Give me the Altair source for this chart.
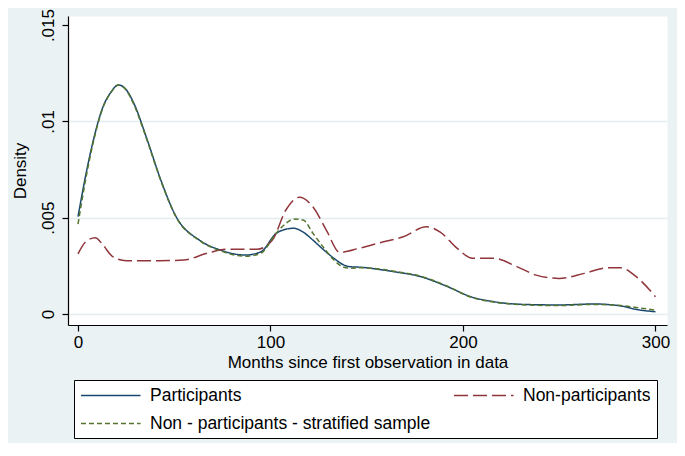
import altair as alt
import pandas as pd

# Participants (solid navy)
part_x = [0, 4, 8, 13, 17, 21, 25, 29, 36, 43, 51, 63, 74, 87, 95, 103, 108, 112, 117, 122, 128, 133, 138, 141,
          148, 156, 164, 178, 192, 204, 216, 231, 250, 268, 282, 290, 300]
part_y = [0.00505, 0.0072, 0.00903, 0.01076, 0.0115, 0.01189, 0.01165, 0.01094, 0.00903, 0.00696, 0.00505,
          0.00384, 0.00332, 0.00306, 0.00323, 0.00419, 0.00440, 0.00445, 0.00425, 0.00384, 0.00330, 0.00289,
          0.00255, 0.00246, 0.00242, 0.00232, 0.0022, 0.00194, 0.00142, 0.0009, 0.00064, 0.0005, 0.00047,
          0.00052, 0.00042, 0.00024, 0.00012]

# Non-participants (long dash maroon)
non_x = [0, 4, 9, 13, 18, 25, 42, 55, 67, 77, 93, 101, 108, 115, 122, 129, 136, 146, 157, 169, 181, 188, 197,
         205, 216, 228, 238, 250, 263, 275, 282, 290, 300]
non_y = [0.00312, 0.00375, 0.00396, 0.00358, 0.00298, 0.00277, 0.00277, 0.0028, 0.00315, 0.00336, 0.00336,
         0.00384, 0.0054, 0.00606, 0.00557, 0.00436, 0.0032, 0.00341, 0.0037, 0.00401, 0.00453, 0.00427,
         0.00341, 0.00289, 0.00289, 0.00246, 0.00202, 0.00185, 0.00211, 0.0024, 0.0024, 0.00194, 0.0009]

# Non - participants - stratified sample (short dash green)
strat_x = [0, 4, 8, 13, 17, 21, 25, 29, 36, 43, 51, 63, 74, 87, 95, 103, 108, 112, 117, 122, 128, 133, 138, 141,
           148, 156, 164, 178, 192, 204, 216, 231, 250, 268, 282, 290, 300]
strat_y = [0.00467, 0.0070, 0.00895, 0.01072, 0.01148, 0.01189, 0.01163, 0.01088, 0.00898, 0.00692, 0.00502,
           0.00382, 0.00328, 0.00300, 0.00316, 0.00420, 0.00470, 0.00493, 0.00488, 0.00420, 0.00340, 0.00280,
           0.00243, 0.00238, 0.00240, 0.00234, 0.00222, 0.00196, 0.00144, 0.00088, 0.00062, 0.00048, 0.00044,
           0.00050, 0.00044, 0.00034, 0.0002]

# legend entries are laid out column by column: col 1 = first two, col 2 = last
series_names = ["Participants", "Non - participants - stratified sample", "Non-participants"]
series_colors = ["#1a476f", "#55752f", "#90353b"]
series_dash = [[1, 0], [5, 3], [14, 5]]

rows = []
for name, xs, ys in [("Participants", part_x, part_y),
                     ("Non-participants", non_x, non_y),
                     ("Non - participants - stratified sample", strat_x, strat_y)]:
    for i, (a, b) in enumerate(zip(xs, ys)):
        rows.append({"series": name, "x": a, "y": b, "i": i})
df = pd.DataFrame(rows)

FONT = "Liberation Sans"

legend = alt.Legend(
    title=None, orient="none", legendX=6, legendY=364, columns=2, columnPadding=19,
    symbolType="M-1,0H6", symbolSize=289, symbolStrokeWidth=1.6, labelFontSize=17.5,
    labelFont=FONT, labelColor="black", labelOffset=51, strokeColor="black",
    fillColor="white", padding=6, rowPadding=10, labelLimit=400,
)

chart = alt.Chart(df).mark_line(strokeWidth=1.5, interpolate="monotone").encode(
    x=alt.X("x:Q", scale=alt.Scale(domain=[-5.2, 306], nice=False, zero=False),
            axis=alt.Axis(values=[0, 100, 200, 300], title="Months since first observation in data",
                          grid=False, tickSize=6, labelPadding=3, titlePadding=4)),
    y=alt.Y("y:Q", scale=alt.Scale(domain=[-0.00057, 0.01547], nice=False, zero=False),
            axis=alt.Axis(values=[0, 0.005, 0.01, 0.015], title="Density",
                          labelExpr="datum.value == 0 ? '0' : replace(format(datum.value, '.3~f'), '0.', '.')",
                          labelAngle=270, labelAlign="center", labelBaseline="bottom",
                          tickSize=6, labelPadding=5, titlePadding=10,
                          grid=True, gridColor="#e3edef", gridWidth=1.5,
                          gridOpacity={"condition": {"test": "datum.value > 0.012", "value": 0}, "value": 1})),
    color=alt.Color("series:N", scale=alt.Scale(domain=series_names, range=series_colors), legend=legend),
    strokeDash=alt.StrokeDash("series:N", scale=alt.Scale(domain=series_names, range=series_dash), legend=legend),
    order="i:Q",
).properties(
    width=599, height=309,
    padding={"left": 60, "top": 8, "right": 10, "bottom": 118},
    autosize="none",
    background="#eaf2f3",
).configure_view(
    fill="white", stroke="transparent"
).configure_axis(
    labelFont=FONT, titleFont=FONT, labelFontSize=17, titleFontSize=17,
    labelColor="black", titleColor="black", titleFontWeight="normal",
    domainColor="black", tickColor="black", domainWidth=1.2, tickWidth=1.2,
)

chart.save("out.html", embed_options={"renderer": "svg", "actions": False})
